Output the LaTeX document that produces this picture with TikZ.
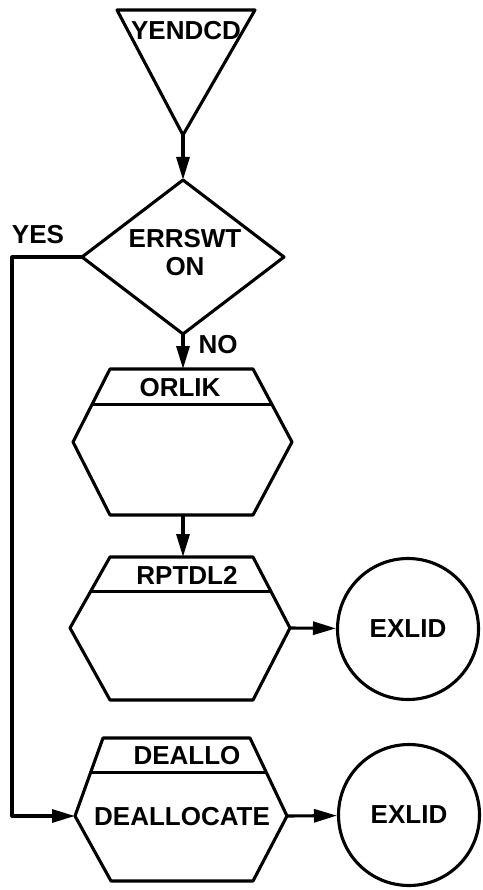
\documentclass[tikz,border=0pt]{standalone}
\usepackage{fontspec}
\setmainfont{Liberation Sans}
\usetikzlibrary{arrows.meta,calc}
\begin{document}
\begin{tikzpicture}[x=1pt,y=-1pt,line width=3.1pt,line join=round,
  lbl/.style={font=\fontsize{26}{28}\selectfont\bfseries,inner sep=0pt},
  flow/.style={-{Triangle[length=23pt,width=13pt]}},
  term/.style={draw,circle,minimum size=141pt,inner sep=0pt,font=\fontsize{26}{28}\selectfont\bfseries}]
\useasboundingbox (0,0) rectangle (482,890);
% start triangle
\coordinate (t1) at (117,10);
\coordinate (t2) at (255,10);
\coordinate (tap) at (183,135);
\draw (t1) -- (t2) -- (tap) -- cycle;
\node[lbl] (yendcd) at (186,31) {YENDCD};
% decision diamond
\coordinate (dn) at (183,180);
\coordinate (de) at (284,257);
\coordinate (ds) at (183,334);
\coordinate (dw) at (82,257);
\draw (dn) -- (de) -- (ds) -- (dw) -- cycle;
\node[lbl,align=center] (errswt) at (185,253) {ERRSWT\\ON};
\node[lbl] (yes) at (38,235) {YES};
\node[lbl] (no) at (218,345) {NO};
% ORLIK
\coordinate (otl) at (110,369); \coordinate (otr) at (253,369);
\coordinate (oe) at (292,442); \coordinate (obr) at (253,515);
\coordinate (obl) at (110,515); \coordinate (ow) at (73,442);
\coordinate (ot) at (183,369); \coordinate (ob) at (183,515);
\draw (otl) -- (otr) -- (oe) -- (obr) -- (obl) -- (ow) -- cycle;
\draw ($(otl)!0.49!(ow)$) -- ($(otr)!0.49!(oe)$);
\node[lbl] (orlik) at (180,388) {ORLIK};
% RPTDL2
\coordinate (rtl) at (110,557); \coordinate (rtr) at (253,557);
\coordinate (re) at (290,628); \coordinate (rbr) at (253,700);
\coordinate (rbl) at (110,700); \coordinate (rw) at (70,628);
\coordinate (rt) at (183,557);
\draw (rtl) -- (rtr) -- (re) -- (rbr) -- (rbl) -- (rw) -- cycle;
\draw ($(rtl)!0.49!(rw)$) -- ($(rtr)!0.49!(re)$);
\node[lbl] (rptdl) at (187,575) {RPTDL2};
% DEALLO
\coordinate (atl) at (103,738); \coordinate (atr) at (250,738);
\coordinate (ae) at (287,816); \coordinate (abr) at (253,881);
\coordinate (abl) at (111,881); \coordinate (aw) at (75,816);
\draw (atl) -- (atr) -- (ae) -- (abr) -- (abl) -- (aw) -- cycle;
\draw ($(atl)!0.44!(aw)$) -- ($(atr)!0.44!(ae)$);
\node[lbl] (deallo) at (187,756) {DEALLO};
\node[lbl] (dealloc) at (182,817) {DEALLOCATE};
% terminals
\node[term] (ex1) at (408,629) {EXLID};
\node[term] (ex2) at (409,815) {EXLID};
% connectors
\coordinate (ycorner) at (12,816);
\draw[flow] (tap) -- (dn);
\draw[flow] (ds) -- (ot);
\draw[flow] (ob) -- (rt);
\draw[flow] (re) -- (ex1);
\draw[flow] (ae) -- (ex2);
\draw[flow] (dw) -| (ycorner) -- (aw);
\end{tikzpicture}
\end{document}
